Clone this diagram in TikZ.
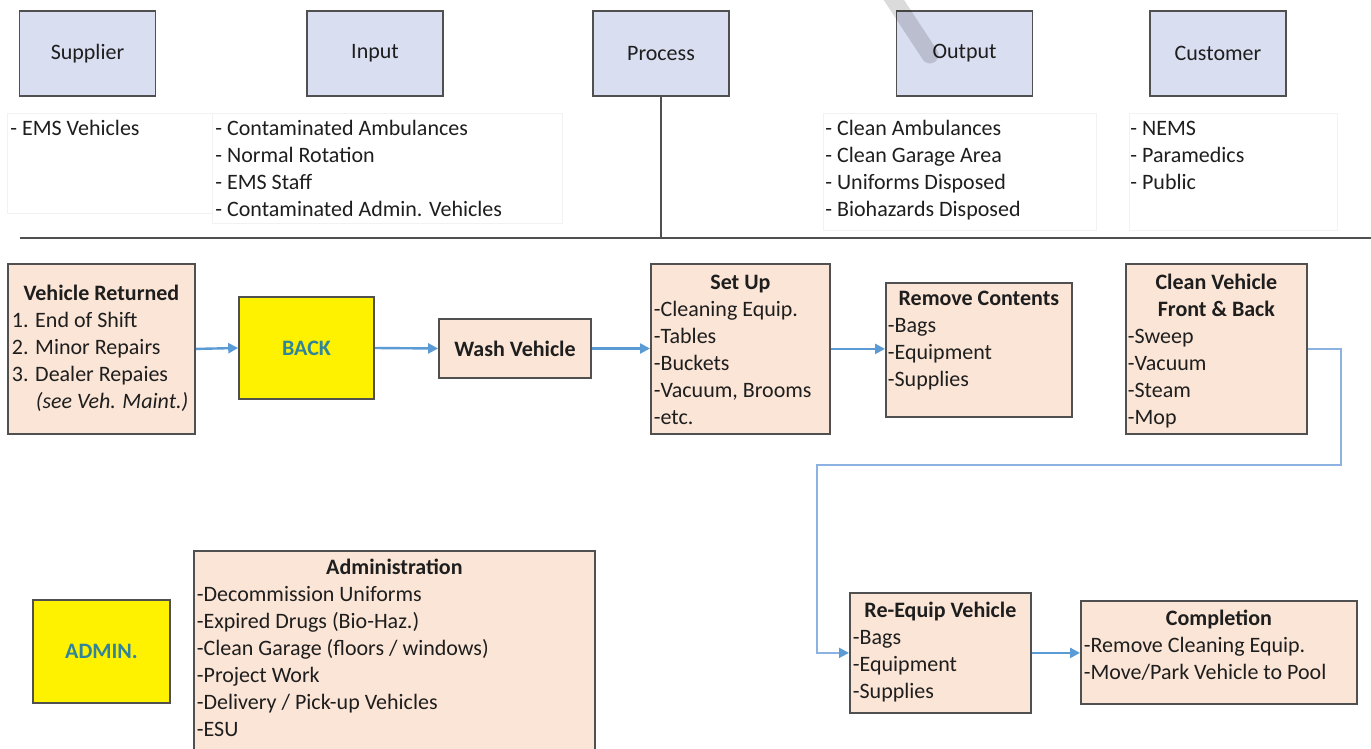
\documentclass[tikz,border=0pt]{standalone}
\usepackage{fontspec}
\setmainfont{Carlito}
\usetikzlibrary{arrows.meta}

\definecolor{hdrfill}{RGB}{217,222,241}
\definecolor{peach}{RGB}{251,229,214}
\definecolor{edge}{RGB}{80,80,80}
\definecolor{flowblue}{RGB}{91,155,213}
\definecolor{loopblue}{RGB}{140,178,225}
\definecolor{tagteal}{RGB}{49,133,155}
\definecolor{ink}{RGB}{30,30,30}

% fixed-size text cell: width, height, first baseline offset, content
\newcommand\cell[4]{\parbox[t][#2][t]{#1}{\raggedright\rule{0pt}{#3}#4}}

\begin{document}
\begin{tikzpicture}[x=1pt,y=-1pt,
  font=\fontsize{22}{27}\selectfont, text=ink,
  hdr/.style={draw=edge, line width=1.4pt, fill=hdrfill, minimum width=136pt,
    minimum height=85pt, inner sep=0pt},
  listbox/.style={draw=black!5, line width=0.8pt, fill=white, anchor=north west, inner sep=0pt},
  stepbox/.style={draw=edge, line width=1.8pt, fill=peach, anchor=north west, inner sep=0pt},
  tagbox/.style={draw=edge, line width=1.6pt, fill=yellow, inner sep=0pt, text=tagteal,
    font=\fontsize{22}{27}\selectfont\bfseries},
  flow/.style={draw=flowblue, line width=2.4pt, -{Triangle[length=10pt,width=10pt]}},
  loopflow/.style={draw=loopblue, line width=2pt, -{Triangle[length=10pt,width=10pt,color=flowblue]}},
]
\fill[white] (0,0) rectangle (1371,749);
\useasboundingbox (0,0) rectangle (1371,749);

% SIPOC headers
\node[hdr] (supplier) at (87.5,53.5) {Supplier};
\node[hdr] (input)    at (375,53.5)  {Input};
\node[hdr] (process)  at (661,53.5)  {Process};
\node[hdr] (output)   at (964.5,53.5) {Output};
\node[hdr] (customer) at (1218,53.5) {Customer};

% header lists
\node[listbox] (suplist) at (7,113) {\cell{205pt}{100pt}{22pt}{\hspace*{3pt}- EMS Vehicles}};
\node[listbox] (inlist) at (212,113) {\cell{350pt}{110pt}{22pt}{%
  \hspace*{3pt}- Contaminated Ambulances\\
  \hspace*{3pt}- Normal Rotation\\
  \hspace*{3pt}- EMS Staff\\
  \hspace*{3pt}- Contaminated Admin. Vehicles}};
\node[listbox] (outlist) at (823,113) {\cell{273pt}{117pt}{22pt}{%
  \hspace*{2pt}- Clean Ambulances\\
  \hspace*{2pt}- Clean Garage Area\\
  \hspace*{2pt}- Uniforms Disposed\\
  \hspace*{2pt}- Biohazards Disposed}};
\node[listbox] (custlist) at (1129,113) {\cell{208pt}{117pt}{22pt}{%
  \hspace*{1pt}- NEMS\\
  \hspace*{1pt}- Paramedics\\
  \hspace*{1pt}- Public}};

% divider
\coordinate (ruleL) at (20,238);
\coordinate (ruleR) at (1371,238);
\draw[line width=2pt, edge] (ruleL) -- (ruleR);
\draw[line width=1.5pt, edge] (process.south) -- (process.south |- ruleL);

% process steps
\node[stepbox] (returned) at (7,263) {\cell{187pt}{170pt}{37pt}{%
  \makebox[\linewidth]{\bfseries Vehicle Returned}\\
  \hspace*{4pt}1. End of Shift\\
  \hspace*{4pt}2. Minor Repairs\\
  \hspace*{4pt}3. Dealer Repaies\\
  \hspace*{28pt}\itshape (see Veh. Maint.)}};
\node[tagbox, minimum width=135pt, minimum height=102pt] (back) at (306.5,348) {BACK};
\node[stepbox, anchor=center, minimum width=152pt, minimum height=59pt,
  font=\fontsize{22}{27}\selectfont\bfseries] (wash) at (515,348.5) {Wash Vehicle};
\node[stepbox] (setup) at (650,263) {\cell{179pt}{170pt}{26pt}{%
  \makebox[\linewidth]{\bfseries Set Up}\\
  \hspace*{3pt}-Cleaning Equip.\\
  \hspace*{3pt}-Tables\\
  \hspace*{3pt}-Buckets\\
  \hspace*{3pt}-Vacuum, Brooms\\
  \hspace*{3pt}-etc.}};
\node[stepbox] (remove) at (885,282) {\cell{186pt}{134pt}{23pt}{%
  \makebox[\linewidth]{\bfseries Remove Contents}\\
  \hspace*{2pt}-Bags\\
  \hspace*{2pt}-Equipment\\
  \hspace*{2pt}-Supplies}};
\node[stepbox] (clean) at (1125,263) {\cell{181pt}{170pt}{26pt}{%
  \makebox[\linewidth]{\bfseries Clean Vehicle}\\
  \makebox[\linewidth]{\bfseries Front \& Back}\\
  \hspace*{2pt}-Sweep\\
  \hspace*{2pt}-Vacuum\\
  \hspace*{2pt}-Steam\\
  \hspace*{2pt}-Mop}};
\node[stepbox] (reequip) at (849,592) {\cell{181pt}{120pt}{25pt}{%
  \makebox[\linewidth]{\bfseries Re-Equip Vehicle}\\
  \hspace*{3pt}-Bags\\
  \hspace*{3pt}-Equipment\\
  \hspace*{3pt}-Supplies}};
\node[stepbox] (completion) at (1080,600) {\cell{276pt}{103pt}{25pt}{%
  \makebox[\linewidth]{\bfseries Completion}\\
  \hspace*{3pt}-Remove Cleaning Equip.\\
  \hspace*{3pt}-Move/Park Vehicle to Pool}};

% administration
\node[tagbox, minimum width=137pt, minimum height=103pt] (admin) at (101.5,651.5) {ADMIN.};
\node[stepbox] (adminlist) at (193,550) {\cell{401pt}{240pt}{24pt}{%
  \makebox[\linewidth]{\bfseries Administration}\\
  \hspace*{3pt}-Decommission Uniforms\\
  \hspace*{3pt}-Expired Drugs (Bio-Haz.)\\
  \hspace*{3pt}-Clean Garage (floors / windows)\\
  \hspace*{3pt}-Project Work\\
  \hspace*{3pt}-Delivery / Pick-up Vehicles\\
  \hspace*{3pt}-ESU}};

% flow connectors
\coordinate (loopA) at (1341,465);
\coordinate (loopB) at (817,465);
\draw[flow] (returned.east) -- (back.west);
\draw[flow] (back.east) -- (wash.west);
\draw[flow] (wash.east) -- (wash.east -| setup.west);
\draw[flow] (setup.east) -- (setup.east -| remove.west);
\draw[loopflow] (clean.east) -| (loopA) -- (loopB) |- (reequip.west);
\draw[flow] (reequip.east) -- (reequip.east -| completion.west);

% pen stroke across the output header
\draw[line width=17pt, line cap=round, black, opacity=0.14] (884,-15) -- (930,55);
\end{tikzpicture}
\end{document}
